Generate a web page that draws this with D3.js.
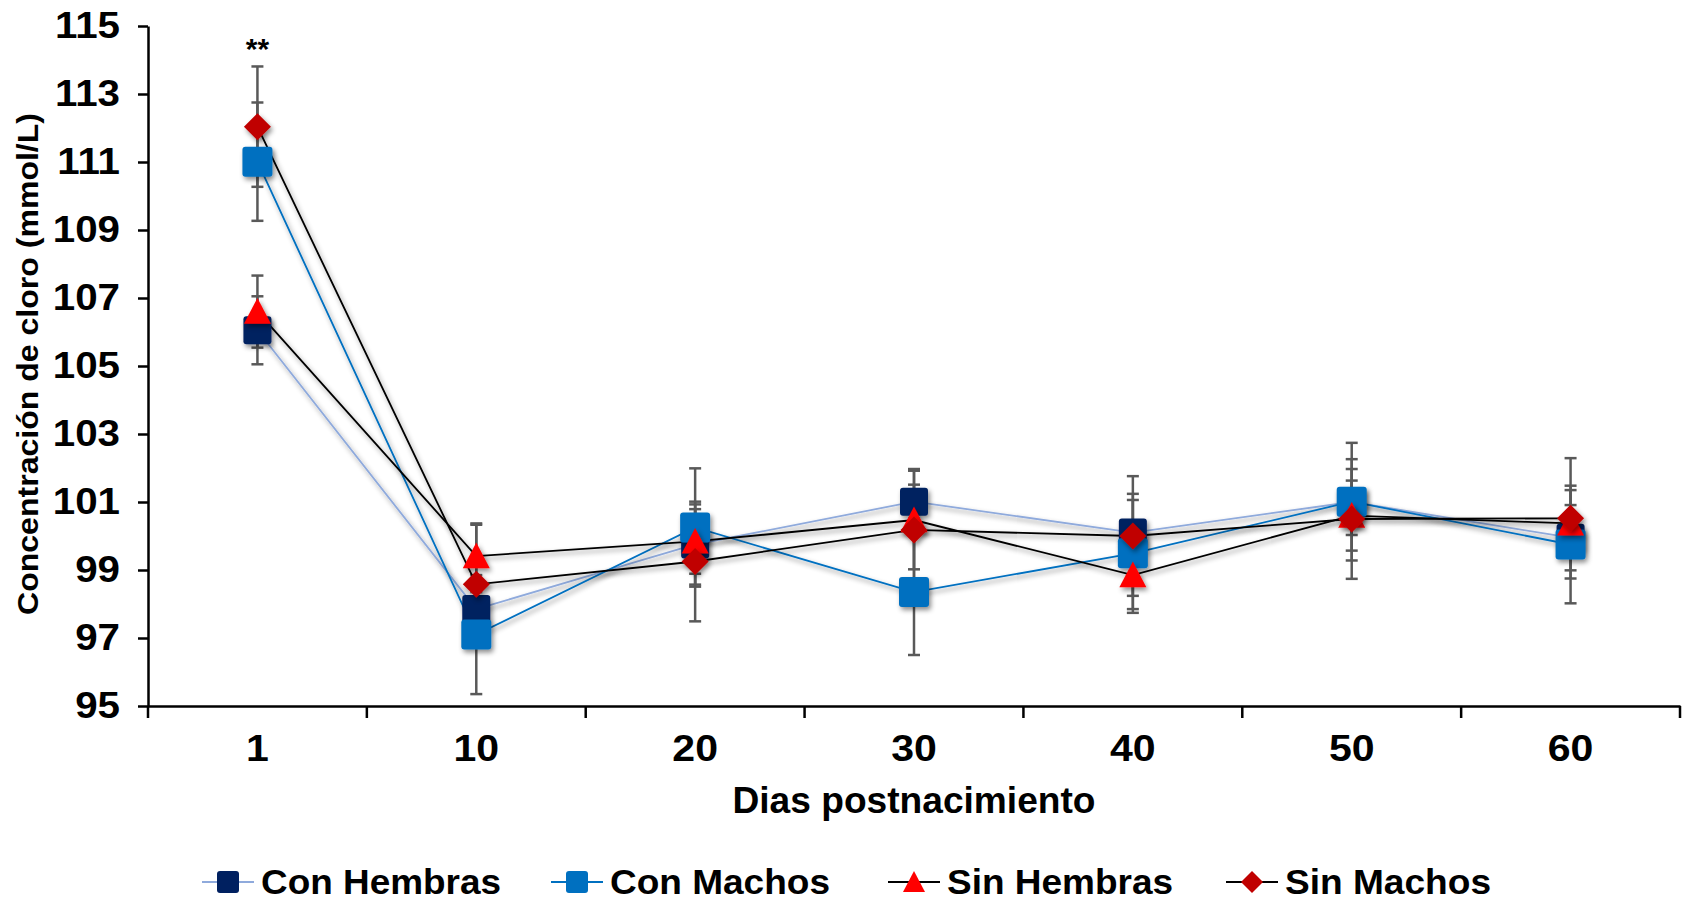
<!DOCTYPE html>
<html>
<head>
<meta charset="utf-8">
<title>Concentración de cloro</title>
<script src="https://cdn.jsdelivr.net/npm/d3@7"></script>
<style>
  body { margin: 0; background: #fff; }
  svg { font-family: "Liberation Sans", Arial, sans-serif; }
  .axis text { font-weight: bold; fill: #000; }
  .axis path, .axis line { stroke: #000; stroke-width: 2.5px; }
</style>
</head>
<body>
<svg id="chart" width="1685" height="902"></svg>
<script>
// data
var days = ["1", "10", "20", "30", "40", "50", "60"];
var yTicks = [95, 97, 99, 101, 103, 105, 107, 109, 111, 113, 115];

var conHembras    = [106.05, 97.85, 99.75, 101.01, 100.1, 101.0, 99.95];
var conHembrasErr = [1.0, 0.5, 1.18, 0.5, 0.96, 0.97, 0.96];
var conMachos     = [111.01, 97.1, 100.25, 98.35, 99.49, 101.01, 99.75];
var conMachosErr  = [1.74, 1.75, 1.74, 1.85, 1.75, 1.73, 1.73];
var sinHembras    = [106.6, 99.41, 99.84, 100.47, 98.85, 100.6, 100.37];
var sinHembrasErr = [1.06, 0.96, 0.95, 1.45, 1.0, 1.03, 0.98];
var sinMachos     = [112.04, 98.58, 99.25, 100.18, 100.0, 100.5, 100.52];
var sinMachosErr  = [1.77, 1.75, 1.76, 1.79, 1.76, 1.76, 1.77];

var series = [
  {name: "Con Hembras", values: conHembras, err: conHembrasErr, shape: "square", size: 28, fill: "#002060", line: "#8faadc"},
  {name: "Con Machos", values: conMachos, err: conMachosErr, shape: "square", size: 30, fill: "#0070c0", line: "#0070c0"},
  {name: "Sin Hembras", values: sinHembras, err: sinHembrasErr, shape: "triangle", size: 27, fill: "#ff0000", line: "#000000"},
  {name: "Sin Machos", values: sinMachos, err: sinMachosErr, shape: "diamond", size: 27, fill: "#c00000", line: "#000000"}
];

var svg = d3.select("#chart");

var defs = svg.append("defs");
var f = defs.append("filter").attr("id", "shadow")
  .attr("x", "-50%").attr("y", "-50%").attr("width", "200%").attr("height", "200%");
f.append("feDropShadow").attr("dx", 2).attr("dy", 3).attr("stdDeviation", 2.5)
  .attr("flood-color", "#000").attr("flood-opacity", 0.45);

var x = d3.scaleBand().domain(days).range([148, 1680]);
var y = d3.scaleLinear().domain([95, 115]).range([706, 26]);
var cx = function (i) { return x(days[i]) + x.bandwidth() / 2; };

// the original labels are a bit wider than the font
function widen(sel, k) {
  sel.each(function () {
    var w = this.getComputedTextLength();
    d3.select(this).attr("textLength", w * k).attr("lengthAdjust", "spacingAndGlyphs");
  });
}

// y axis
var yAxis = svg.append("g").attr("class", "axis")
  .attr("transform", "translate(148,0)")
  .call(d3.axisLeft(y).tickValues(yTicks).tickSize(10).tickSizeOuter(0).tickPadding(18));
yAxis.selectAll("text").style("font-size", "36px").call(widen, 1.12);

// x axis: labels centred, ticks at category boundaries
var xAxis = svg.append("g").attr("class", "axis")
  .attr("transform", "translate(0,706)")
  .call(d3.axisBottom(x).tickSize(0).tickSizeOuter(0).tickPadding(29));
xAxis.selectAll("text").style("font-size", "36px").call(widen, 1.14);
xAxis.selectAll(".bound")
  .data([days[0]].concat(days))
  .enter().append("line")
  .attr("x1", function (d, i) { return i === 0 ? x(d) : x(d) + x.bandwidth(); })
  .attr("x2", function (d, i) { return i === 0 ? x(d) : x(d) + x.bandwidth(); })
  .attr("y1", 0).attr("y2", 12)
  .attr("stroke", "#000").attr("stroke-width", 2.5);

// axis titles
svg.append("text")
  .attr("x", 914).attr("y", 813)
  .attr("text-anchor", "middle")
  .attr("textLength", 363).attr("lengthAdjust", "spacingAndGlyphs")
  .style("font-size", "36px").style("font-weight", "bold")
  .text("Dias postnacimiento");

svg.append("text")
  .attr("transform", "translate(38,364) rotate(-90)")
  .attr("text-anchor", "middle")
  .attr("textLength", 502).attr("lengthAdjust", "spacingAndGlyphs")
  .style("font-size", "29px").style("font-weight", "bold")
  .text("Concentración de cloro (mmol/L)");

// error bars
series.forEach(function (s) {
  var g = svg.append("g");
  s.values.forEach(function (v, i) {
    var top = y(v + s.err[i]), bot = y(v - s.err[i]), xc = cx(i);
    g.append("line").attr("x1", xc).attr("x2", xc).attr("y1", top).attr("y2", bot)
      .attr("stroke", "#595959").attr("stroke-width", 2.5);
    [top, bot].forEach(function (yy) {
      g.append("line").attr("x1", xc - 6).attr("x2", xc + 6).attr("y1", yy).attr("y2", yy)
        .attr("stroke", "#595959").attr("stroke-width", 2.5);
    });
  });
});

var line = d3.line().x(function (d, i) { return cx(i); }).y(function (d) { return y(d); });

function markerPath(shape, size) {
  var h = size / 2;
  if (shape === "triangle") return "M0," + (-h) + "L" + h + "," + h * 0.9 + "L" + (-h) + "," + h * 0.9 + "Z";
  if (shape === "diamond") return "M0," + (-h) + "L" + h + ",0L0," + h + "L" + (-h) + ",0Z";
  return null;
}

function drawMarker(g, s, xc, yc, size) {
  if (s.shape === "square") {
    g.append("rect").attr("x", xc - size / 2).attr("y", yc - size / 2)
      .attr("width", size).attr("height", size).attr("rx", 3)
      .attr("fill", s.fill);
  } else {
    g.append("path").attr("d", markerPath(s.shape, size))
      .attr("transform", "translate(" + xc + "," + yc + ")")
      .attr("fill", s.fill);
  }
}

// lines and markers
series.forEach(function (s) {
  svg.append("path").datum(s.values)
    .attr("d", line).attr("fill", "none")
    .attr("stroke", s.line).attr("stroke-width", 1.8)
    .attr("filter", "url(#shadow)");
});
series.forEach(function (s) {
  var g = svg.append("g").attr("filter", "url(#shadow)");
  s.values.forEach(function (v, i) { drawMarker(g, s, cx(i), y(v), s.size); });
});

// significance mark
svg.append("text")
  .attr("x", cx(0)).attr("y", 59)
  .attr("text-anchor", "middle")
  .style("font-size", "30px").style("font-weight", "bold")
  .text("**");

// legend
var legendX = [228, 577, 914, 1252];
var legendW = [240, 220, 226, 206];
series.forEach(function (s, i) {
  var g = svg.append("g").attr("transform", "translate(" + legendX[i] + ",882)");
  g.append("line").attr("x1", -26).attr("x2", 26).attr("y1", 0).attr("y2", 0)
    .attr("stroke", s.line).attr("stroke-width", 1.8);
  drawMarker(g, s, 0, 0, 22);
  g.append("text").attr("x", 33).attr("y", 12)
    .attr("textLength", legendW[i]).attr("lengthAdjust", "spacingAndGlyphs")
    .style("font-size", "35px").style("font-weight", "bold")
    .text(s.name);
});
</script>
</body>
</html>
